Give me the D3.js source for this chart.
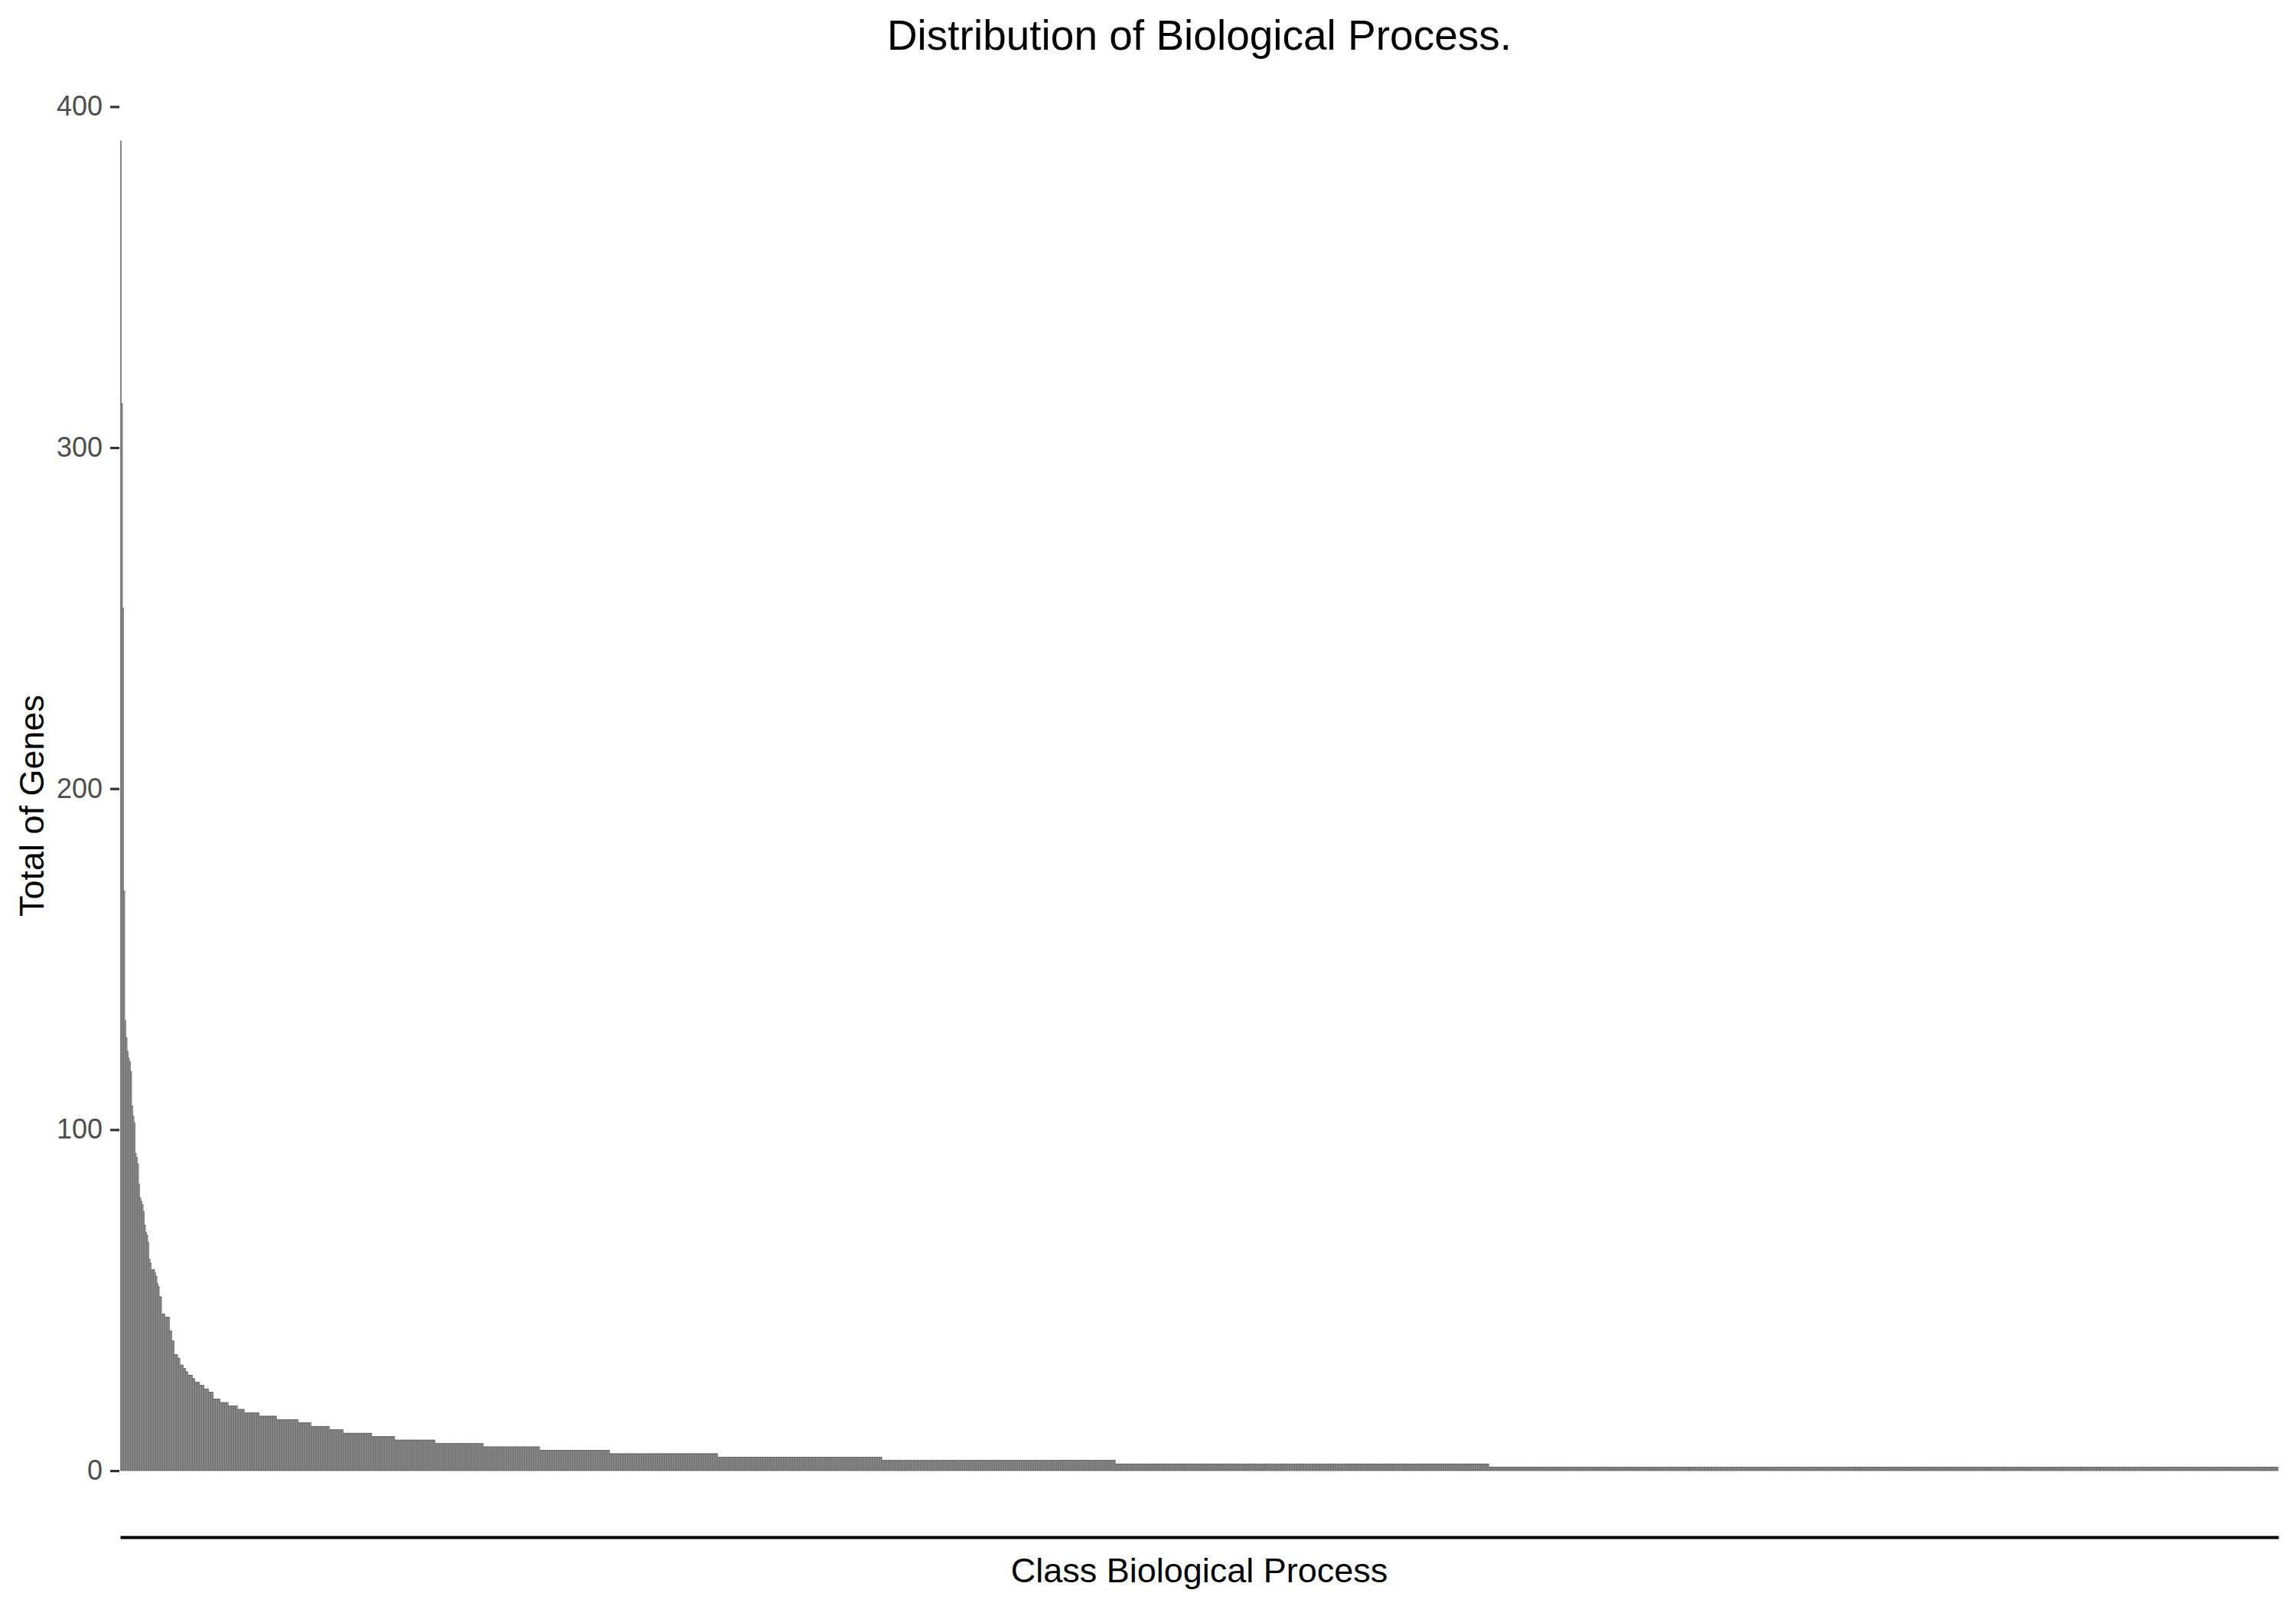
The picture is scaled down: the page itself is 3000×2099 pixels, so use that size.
<!DOCTYPE html>
<html>
<head>
<meta charset="utf-8">
<script src="https://cdn.jsdelivr.net/npm/d3@7"></script>
<style>
  html, body { margin: 0; padding: 0; background: #ffffff; }
  svg { display: block; }
</style>
</head>
<body>
<svg id="chart" width="3000" height="2099"></svg>
<script>
// Frequency table: number of biological-process classes
// (classCounts) having a given total of genes (geneTotals), sorted descending.
const geneTotals  = [390, 313, 253, 170, 132, 127, 123, 121, 120, 117, 107, 104, 102, 93, 92, 90, 84, 80, 79, 78, 76, 72, 70, 69, 67, 62, 61, 59, 58, 57, 55, 54, 51, 46, 45, 41, 38, 34, 33, 31, 30, 29, 28, 27, 26, 25, 24, 23, 21, 20, 19, 18, 17, 16, 15, 14, 13, 12, 11, 10, 9, 8, 7, 6, 5, 4, 3, 2, 1];
const classCounts = [1,   1,   1,   1,   1,   1,   1,   1,   1,   1,   1,   1,   1,   1,  1,  1,  1,  1,  1,  1,  1,  1,  1,  1,  1,  1,  1,  3,  1,  1,  1,  1,  2,  3,  4,  2,  2,  3,  2,  3,  2,  2,  4,  2,  4,  4,  4,  4,  6,  7,  8,  6,  13, 15, 19, 11, 16, 12, 25, 20, 35, 42, 49, 61, 94, 143, 203, 325, 687];
const yTicks = [0, 100, 200, 300, 400];
const titleText = "Distribution of Biological Process.";
const xTitle = "Class Biological Process";
const yTitle = "Total of Genes";

// one bar per class
const bars = [];
geneTotals.forEach((v, i) => {
  for (let k = 0; k < classCounts[i]; k++) bars.push({ id: "BP" + (bars.length + 1), total: v });
});
const categories = bars.map(d => d.id);

const svg = d3.select("#chart");
const pLeft = 157, pRight = 2977, pTop = 97, pBottom = 2009;
const font = "'Liberation Sans', Arial, Helvetica, sans-serif";

const maxV = d3.max(geneTotals);
const pad = maxV * 0.05;
const y = d3.scaleLinear().domain([-pad, maxV + pad]).range([pBottom, pTop]);
const x = d3.scaleBand().domain(categories).range([pLeft, pRight])
  .paddingInner(0.1).paddingOuter(0.15).align(0.5);

// bars
svg.append("g")
  .selectAll("rect")
  .data(bars)
  .join("rect")
  .attr("x", d => x(d.id))
  .attr("width", x.bandwidth())
  .attr("y", d => y(d.total))
  .attr("height", d => y(0) - y(d.total))
  .attr("fill", "#9a9a9a")
  .attr("stroke", "#555555")
  .attr("stroke-width", 0.5);

// y axis (ticks only, no axis line)
const yAxis = d3.axisLeft(y).tickValues(yTicks).tickSize(12).tickPadding(10);
const gy = svg.append("g").attr("transform", `translate(${pLeft - 1},0)`).call(yAxis);
gy.select(".domain").remove();
gy.selectAll(".tick line").attr("stroke", "#333333").attr("stroke-width", 3.2);
gy.selectAll(".tick text")
  .attr("fill", "#4d4d4d")
  .style("font-family", font)
  .style("font-size", "36px");

// x axis line (no ticks)
const xAxis = d3.axisBottom(x).tickValues([]).tickSizeOuter(0);
const gx = svg.append("g").attr("transform", `translate(0,${pBottom})`).call(xAxis);
gx.select(".domain").attr("stroke", "#000000").attr("stroke-width", 4.2);

// titles
svg.append("text")
  .attr("x", (pLeft + pRight) / 2).attr("y", 65)
  .attr("text-anchor", "middle")
  .style("font-family", font).style("font-size", "55px")
  .attr("fill", "#000000")
  .text(titleText);

svg.append("text")
  .attr("x", (pLeft + pRight) / 2).attr("y", 2068)
  .attr("text-anchor", "middle")
  .style("font-family", font).style("font-size", "45px")
  .attr("fill", "#000000")
  .text(xTitle);

svg.append("text")
  .attr("transform", `translate(57,${(pTop + pBottom) / 2}) rotate(-90)`)
  .attr("text-anchor", "middle")
  .style("font-family", font).style("font-size", "45px")
  .attr("fill", "#000000")
  .text(yTitle);
</script>
</body>
</html>
